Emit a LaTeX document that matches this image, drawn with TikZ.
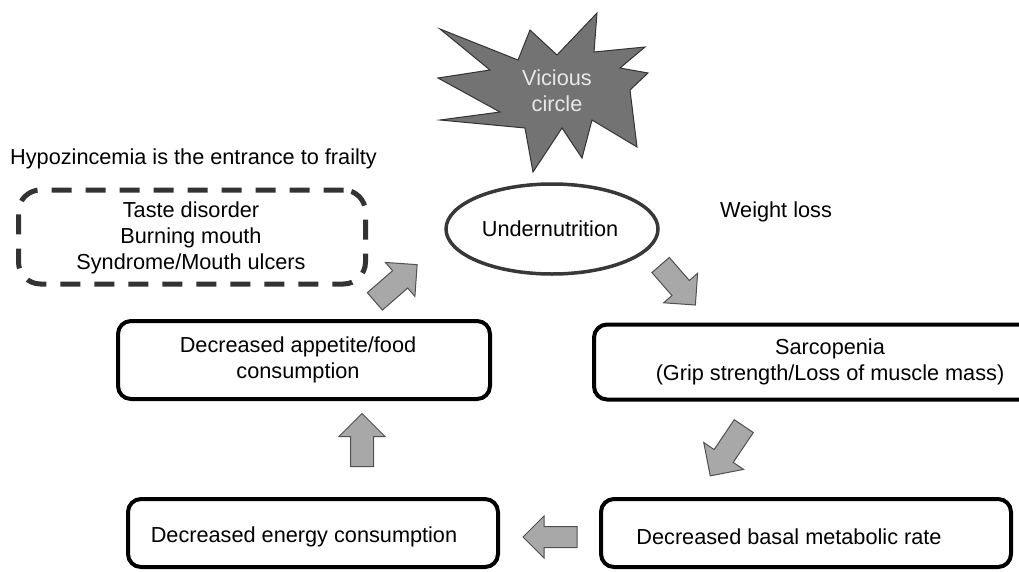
\documentclass[tikz,border=0pt]{standalone}
\usepackage{fontspec}
\setmainfont{Liberation Sans}
\usetikzlibrary{shapes.geometric}
\definecolor{arrowfill}{HTML}{A8A8A8}
\definecolor{arrowline}{HTML}{505050}
\definecolor{starfill}{HTML}{737373}
\definecolor{startext}{HTML}{E8E8E8}
\tikzset{
  lbl/.style={font=\fontsize{21.7}{26}\selectfont, align=center, inner sep=0pt},
  solidbox/.style={draw=black, line width=4pt, rounded corners=13pt, inner sep=0pt},
  dashbox/.style={draw=black!80, line width=5pt, rounded corners=22pt, dash pattern=on 20pt off 14pt, inner sep=0pt},
  blockarrowstyle/.style={draw=arrowline, fill=arrowfill, line width=1pt, line join=miter},
}
% #1 name, #2 centre, #3 angle, #4 length, #5 shaft half width, #6 head half width
\newcommand\blockarr[6]{%
  \begin{scope}[shift={#2}, rotate=#3]
    \pgfmathsetmacro\halfL{#4/2}
    \pgfmathsetmacro\headbase{#4/2-#6}
    \draw[blockarrowstyle] (-\halfL,-#5) -- (\headbase,-#5) -- (\headbase,-#6) -- (\halfL,0)
      -- (\headbase,#6) -- (\headbase,#5) -- (-\halfL,#5) -- cycle;
    \coordinate (#1) at (0,0);
  \end{scope}}
\begin{document}
\begin{tikzpicture}[x=1pt,y=-1pt]
\useasboundingbox (0,0) rectangle (1019,571);
% star
\draw[fill=starfill, draw=black!80, line width=1pt]
  (597,13) -- (594,52) -- (645,47) -- (620,68) -- (648,73) -- (630,90) -- (637,147)
  -- (592,120) -- (582,158) -- (562,128) -- (533,172) -- (525,128) -- (440,120)
  -- (500,112) -- (438,78) -- (490,70) -- (440,29) -- (518,60) -- (530,30) -- (557,55) -- cycle;
\node[lbl, text=startext] (vc) at (557,91) {Vicious\\circle};
% title
\node[lbl, anchor=base west] (title) at (10,164) {Hypozincemia is the entrance to frailty};
% dashed box
\node[dashbox, minimum width=347pt, minimum height=94pt] (oral) at (192,237) {};
\node[lbl] (oraltxt) at (191,238) {Taste disorder\\Burning mouth\\Syndrome/Mouth ulcers};
% ellipse
\node[ellipse, draw=black!78, line width=3.5pt, minimum width=212pt, minimum height=90pt, inner sep=0pt] (under) at (552,229) {};
\node[lbl] (undertxt) at (550,229) {Undernutrition};
\node[lbl] (wl) at (776,212) {Weight loss};
% boxes
\node[solidbox, minimum width=372pt, minimum height=78pt] (appetite) at (304,360) {};
\node[lbl] (apptxt) at (298,360) {Decreased appetite/food\\consumption};
\node[solidbox, minimum width=472pt, minimum height=75pt] (sarc) at (830,362) {};
\node[lbl] (sarctxt) at (830,362) {Sarcopenia\\ (Grip strength/Loss of muscle mass)};
\node[solidbox, minimum width=370pt, minimum height=68pt] (energy) at (313,533) {};
\node[lbl] (energytxt) at (304,537) {Decreased energy consumption};
\node[solidbox, minimum width=410pt, minimum height=68pt] (basal) at (806,533) {};
\node[lbl] (basaltxt) at (789,537) {Decreased basal metabolic rate};
% block arrows
\blockarr{a1}{(396,283)}{41}{56}{11.5}{22.5}
\blockarr{a2}{(678,285)}{-49}{53}{11.5}{22.5}
\blockarr{a3}{(727,451)}{-124}{60}{11.5}{24}
\blockarr{a4}{(550,537)}{180}{54}{10.5}{21}
\blockarr{a5}{(362,440)}{90}{53}{11.5}{23}
\end{tikzpicture}
\end{document}
